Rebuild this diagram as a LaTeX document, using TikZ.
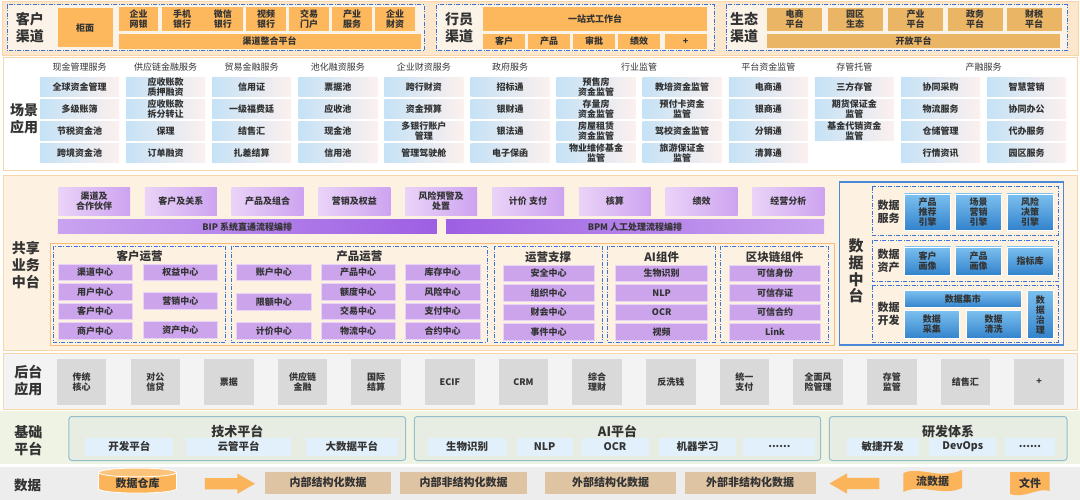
\documentclass[tikz,border=0pt]{standalone}
\usepackage{fontspec}
\setmainfont{Noto Sans CJK SC}
\usetikzlibrary{positioning}
\usetikzlibrary{shapes.geometric}
\usetikzlibrary{shapes.arrows}

\definecolor{textgray}{HTML}{333333}
\definecolor{bandline}{HTML}{F7D6AA}
\definecolor{bandtop}{HTML}{FCE7CC}
\definecolor{chanfill}{HTML}{FBF3E8}
\definecolor{chanbox}{HTML}{FDB75C}
\definecolor{ecobox}{HTML}{EBB566}
\definecolor{dashblue}{HTML}{3A74D6}
\definecolor{scenL}{HTML}{C5E2F6}
\definecolor{scenR}{HTML}{FCF0EE}
\definecolor{midfill}{HTML}{FDF1E1}
\definecolor{purpL}{HTML}{EAD3F8}
\definecolor{purpR}{HTML}{CDA3F0}
\definecolor{bipL}{HTML}{C9A3F0}
\definecolor{bipR}{HTML}{9D5FE3}
\definecolor{cellpurp}{HTML}{CBA4EC}
\definecolor{cellline}{HTML}{E9D4F8}
\definecolor{frameorange}{HTML}{F6BC78}
\definecolor{datablue}{HTML}{4C88DA}
\definecolor{datT}{HTML}{7CC0EF}
\definecolor{datB}{HTML}{3383CC}
\definecolor{backfill}{HTML}{F3F3F3}
\definecolor{backbox}{HTML}{D9D9D9}
\definecolor{basefill}{HTML}{EEF3E4}
\definecolor{baseedge}{HTML}{95BECC}
\definecolor{basebox}{HTML}{E7EDE3}
\definecolor{basecell}{HTML}{E1F0FA}
\definecolor{datafill}{HTML}{EDEDED}
\definecolor{warm}{HTML}{FBB45A}
\definecolor{tanbox}{HTML}{DFC4A3}

\newcommand{\cellfont}{\bfseries\fontsize{9}{10}\selectfont}
\newcommand{\sidefont}{\bfseries\fontsize{14}{17}\selectfont}
\newcommand{\moredots}{......}

\begin{document}
\begin{tikzpicture}[x=1pt, y=-1pt,
  every node/.style={align=center, inner sep=0pt, text=textgray, font=\cellfont},
  band/.style={draw=bandline, line width=0.8pt},
  chan/.style={draw=dashblue, line width=1pt, dash pattern=on 4pt off 1.5pt on 1pt off 1.5pt},
  obox/.style={fill=chanbox},
  ebox/.style={fill=ecobox},
  side/.style={font=\sidefont},
  head/.style={font=\fontsize{9}{10}\selectfont},
  scen/.style={left color=scenL, right color=scenR, minimum width=79, minimum height=19},
  ptop/.style={left color=purpL, right color=purpR, minimum width=72, minimum height=28},
  pcell/.style={fill=cellpurp, draw=cellline, line width=0.6pt, minimum height=16.5},
  ttl/.style={font=\bfseries\fontsize{11.5}{13}\selectfont},
  dcell/.style={top color=datT, bottom color=datB, draw=white, line width=0.4pt},
  dlabel/.style={font=\bfseries\fontsize{11}{13}\selectfont},
  gbox/.style={fill=backbox, minimum width=49.5, minimum height=46.5},
  platbox/.style={draw=baseedge, fill=basebox, rounded corners=3pt, line width=1pt},
  bcell/.style={fill=basecell, minimum height=17.5, font=\bfseries\fontsize{10.5}{12}\selectfont},
  tbox/.style={fill=tanbox, minimum height=22, font=\bfseries\fontsize{11}{12}\selectfont},
  blockarrow/.style={single arrow, fill=warm, inner xsep=0pt, inner ysep=5.5pt, minimum height=50, single arrow head extend=4.5pt, single arrow tip angle=60}]

  \useasboundingbox (0,0) rectangle (1080,500);

  % ---------- channels
  \draw[band, fill=bandtop] (2,1) rectangle (1078,55);

  \draw[chan, fill=chanfill] (7,5) rectangle (424,51);
  \node[side] (khqd) at (30,28) {客户\\渠道};
  \node[obox, minimum width=55, minimum height=39] (gm) at (85,28) {柜面};
  \node[obox, minimum width=39, minimum height=24] (qywy) at (138.5,19) {企业\\网银};
  \node[obox, minimum width=81, minimum height=24] (sjwx) at (202.5,19) {手机\hspace{23pt}微信\\银行\hspace{23pt}银行};
  \foreach \x/\t [count=\k] in {266/{视频\\银行}, 309/{交易\\门户}, 352/{产业\\服务}, 395/{企业\\财资}}
    \node[obox, minimum width=40, minimum height=24] (kq\k) at (\x,19) {\t};
  \node[obox, minimum width=302, minimum height=14.5] (qdzh) at (269.5,41.3) {渠道整合平台};

  \draw[chan, fill=chanfill] (436,5) rectangle (714,51);
  \node[side] (hyqd) at (459,28) {行员\\渠道};
  \node[obox, minimum width=224.5, minimum height=24] (yzs) at (595,19) {一站式工作台};
  \foreach \x/\t [count=\k] in {504/客户, 549/产品, 594/审批, 639/绩效, 685.5/+}
    \node[obox, minimum width=42, minimum height=14.5] (hy\k) at (\x,41.3) {\t};

  \draw[chan, fill=chanfill] (726,5) rectangle (1067,51);
  \node[side] (stqd) at (744,28) {生态\\渠道};
  \foreach \x/\t [count=\k] in {794.5/{电商\\平台}, 855/{园区\\生态}, 915.5/{产业\\平台}, 975/{政务\\平台}, 1034/{财税\\平台}}
    \node[ebox, minimum width=55, minimum height=23] (st\k) at (\x,19.5) {\t};
  \node[ebox, minimum width=293, minimum height=14] (kfpt) at (913.5,41.3) {开放平台};

  % ---------- scenarios
  \draw[band, fill=white] (3,57) rectangle (1077,170);
  \node[side] (cjyy) at (24,119) {场景\\应用};
  \foreach \c/\h [count=\k] in {0/现金管理服务, 1/供应链金融服务, 2/贸易金融服务, 3/池化融资服务, 4/企业财资服务, 5/政府服务, 6.5/行业监管, 8/平台资金监管, 9/存管托管, 10.5/产融服务}
    \node[head] (h\k) at ({79.5+86.1*\c},67) {\h};
  \foreach \c/\lst in {
      0/{全球资金管理,多级账簿,节税资金池,跨境资金池},
      1/{{应收账款\\质押融资},{应收账款\\拆分转让},保理,订单融资},
      2/{信用证,一级福费廷,结售汇,扎差结算},
      3/{票据池,应收池,现金池,信用池},
      4/{跨行财资,资金预算,{多银行账户\\管理},管理驾驶舱},
      5/{招标通,银财通,银法通,电子保函},
      6/{{预售房\\资金监管},{存量房\\资金监管},{房屋租赁\\资金监管},{物业维修基金\\监管}},
      7/{教培资金监管,{预付卡资金\\监管},驾校资金监管,{旅游保证金\\监管}},
      8/{电商通,银商通,分销通,清算通},
      9/{三方存管,{期货保证金\\监管},{基金代销资金\\监管}},
      10/{协同采购,物流服务,仓储管理,行情资讯},
      11/{智慧营销,协同办公,代办服务,园区服务}}
    \foreach \t [count=\r] in \lst
      \node[scen] (s\c-\r) at ({79.5+86.1*\c},{87.5+21.8*(\r-1)}) {\t};

  % ---------- shared business middle platform
  \draw[band, fill=midfill] (3,175) rectangle (1077,350);
  \node[side] (gxzt) at (26,265) {共享\\业务\\中台};
  \foreach \t [count=\k] in {{渠道及\\合作伙伴}, 客户及关系, 产品及组合, 营销及权益, {风险预警及\\处置}, 计价~支付, 核算, 绩效, 经营分析}
    \node[ptop] (p\k) at ({94+86.8*(\k-1)},201.4) {\t};
  \node[left color=bipL, right color=bipR, minimum width=379, minimum height=14] (bip) at (247.3,226.7) {BIP 系统直通流程编排};
  \node[left color=bipR, right color=bipL, minimum width=378, minimum height=14] (bpm) at (635,226.7) {BPM 人工处理流程编排};

  \draw[frameorange, line width=1pt] (50,243) rectangle (834,345);
  \draw[chan] (53.4,246) rectangle (225.6,342);
  \draw[chan] (231.4,246) rectangle (487.3,342);
  \draw[chan] (494.2,246) rectangle (602,342);
  \draw[chan] (607.8,246) rectangle (715.6,342);
  \draw[chan] (720.8,246) rectangle (828.6,342);
  \node[ttl] (khyy) at (139.5,256) {客户运营};
  \node[ttl] (cpyy) at (359.4,256) {产品运营};
  \node[ttl] (yyzc) at (548.1,257) {运营支撑};
  \node[ttl] (aizj) at (661.7,257) {AI组件};
  \node[ttl] (qklzj) at (774.7,257) {区块链组件};

  \foreach \x/\y/\t [count=\k] in {95.2/272.5/渠道中心, 95.2/292/用户中心, 95.2/311.5/客户中心, 95.2/331/商户中心, 180.3/272.5/权益中心, 180.3/301/营销中心, 180.3/330/资产中心}
    \node[pcell, minimum width=74.5] (kh\k) at (\x,\y) {\t};
  \foreach \x/\y/\t [count=\k] in {273.8/272.5/账户中心, 273.8/302/限额中心, 273.8/331/计价中心, 358.2/272.5/产品中心, 358.2/292/额度中心, 358.2/311.5/交易中心, 358.2/331/物流中心, 442.7/272.5/库存中心, 442.7/292/风险中心, 442.7/311.5/支付中心, 442.7/331/合约中心}
    \node[pcell, minimum width=74.5] (cp\k) at (\x,\y) {\t};
  \foreach \t [count=\k] in {安全中心, 组织中心, 财会中心, 事件中心}
    \node[pcell, minimum width=91.6] (yy\k) at (548.6,{273.5+19.5*(\k-1)}) {\t};
  \foreach \t [count=\k] in {生物识别, NLP, OCR, 视频}
    \node[pcell, minimum width=92] (ai\k) at (661.7,{273.5+19.5*(\k-1)}) {\t};
  \foreach \t [count=\k] in {可信身份, 可信存证, 可信合约, Link}
    \node[pcell, minimum width=91] (ql\k) at (775,{273.5+19.5*(\k-1)}) {\t};

  % data middle platform
  \draw[datablue, line width=1.2pt] (839.6,182) rectangle (1063.5,345);
  \node[font=\bfseries\fontsize{15}{16.6}\selectfont] (sjzt) at (856,271) {数\\据\\中\\台};
  \draw[chan] (872.4,187) rectangle (1058,235.3);
  \draw[chan] (872.4,240.4) rectangle (1058,281.7);
  \draw[chan] (872.4,285.9) rectangle (1058,342);
  \node[dlabel] (sjfw) at (888.7,212) {数据\\服务};
  \node[dlabel] (sjzc) at (888.7,261) {数据\\资产};
  \node[dlabel] (sjkf) at (888.7,314) {数据\\开发};
  \foreach \x/\t [count=\k] in {927.5/{产品\\推荐\\引擎}, 978.6/{场景\\营销\\引擎}, 1030/{风险\\决策\\引擎}}
    \node[dcell, minimum width=46, minimum height=36] (fw\k) at (\x,212) {\t};
  \foreach \x/\t [count=\k] in {927.5/{客户\\画像}, 978.6/{产品\\画像}, 1030/指标库}
    \node[dcell, minimum width=46, minimum height=28] (zc\k) at (\x,260.7) {\t};
  \node[dcell, minimum width=116.7, minimum height=17] (sjjs) at (962.8,299) {数据集市};
  \node[dcell, minimum width=54.7, minimum height=28] (sjcj) at (931.8,324.5) {数据\\采集};
  \node[dcell, minimum width=55, minimum height=28] (sjqx) at (993.6,324.5) {数据\\清洗};
  \node[dcell, minimum width=26, minimum height=48] (sjzl) at (1040.3,314.5) {数\\据\\治\\理};

  % ---------- back office
  \draw[band, fill=backfill] (3,353) rectangle (1077,409);
  \node[side] (htyy) at (28.4,381) {后台\\应用};
  \foreach \t [count=\k] in {{传统\\核心}, {对公\\信贷}, 票据, {供应链\\金融}, {国际\\结算}, ECIF, CRM, {综合\\理财}, 反洗钱, {统一\\支付}, {全面风\\险管理}, {存管\\监管}, 结售汇, +}
    \node[gbox] (b\k) at ({81.6+73.65*(\k-1)},381.9) {\t};

  % ---------- base platform
  \fill[basefill] (0,411) rectangle (1080,464);
  \node[side] (jcpt) at (28.4,441) {基础\\平台};
  \draw[platbox] (68.9,416.5) rectangle (405.7,460.5);
  \draw[platbox] (414.3,416.5) rectangle (820.7,460.5);
  \draw[platbox] (829.3,416.5) rectangle (1067,460.5);
  \node[font=\bfseries\fontsize{13}{14}\selectfont] (jspt) at (237.3,431.3) {技术平台};
  \node[font=\bfseries\fontsize{13}{14}\selectfont] (aipt) at (617.5,431.3) {AI平台};
  \node[font=\bfseries\fontsize{13}{14}\selectfont] (yftx) at (948,431.3) {研发体系};
  \foreach \x/\w/\t [count=\k] in {129.3/88/开发平台, 238.5/105/云管平台, 351.8/92/大数据平台, 467.2/78/生物识别, 544.7/56/NLP, 615/67/OCR, 697.6/77.5/机器学习, 779.4/72/\moredots, 882.7/72.4/敏捷开发, 962.8/67/DevOps, 1030/50/\moredots}
    \node[bcell, minimum width=\w] (jc\k) at (\x,446.8) {\t};

  % ---------- data
  \fill[datafill] (0,467) rectangle (1080,500);
  \node[font=\bfseries\fontsize{13.5}{15}\selectfont] (sj) at (27.6,485) {数据};
  \node[cylinder, shape border rotate=90, aspect=0.2, draw=white, line width=0.8pt, cylinder uses custom fill, cylinder body fill=warm, cylinder end fill=warm!80!white, minimum width=78, minimum height=25, font=\bfseries\fontsize{11}{12}\selectfont] (sjck) at (137.5,483) {数据仓库};
  \node[blockarrow] (arrR) at (225,483.7) {};
  \foreach \x/\w/\t [count=\k] in {328/125.7/内部结构化数据, 463.5/126.7/内部非结构化数据, 610.6/131/外部结构化数据, 750/131/外部非结构化数据}
    \node[tbox, minimum width=\w] (d\k) at (\x,482.5) {\t};
  \node[blockarrow, shape border rotate=180] (arrL) at (859.4,483.5) {};
  \fill[warm] (903.3,473) .. controls (920,466) and (940,480) .. (962,470) -- (962,488) .. controls (942,497) and (922,483) .. (903.3,492) -- cycle;
  \node[font=\bfseries\fontsize{11}{12}\selectfont] (lsj) at (932.6,481) {流数据};
  \fill[warm] (1010,472) -- (1049.7,472) -- (1049.7,491) .. controls (1038,487) and (1025,499) .. (1010,494) -- cycle;
  \node[font=\bfseries\fontsize{11}{12}\selectfont] (wj) at (1030,483.5) {文件};

\end{tikzpicture}
\end{document}
